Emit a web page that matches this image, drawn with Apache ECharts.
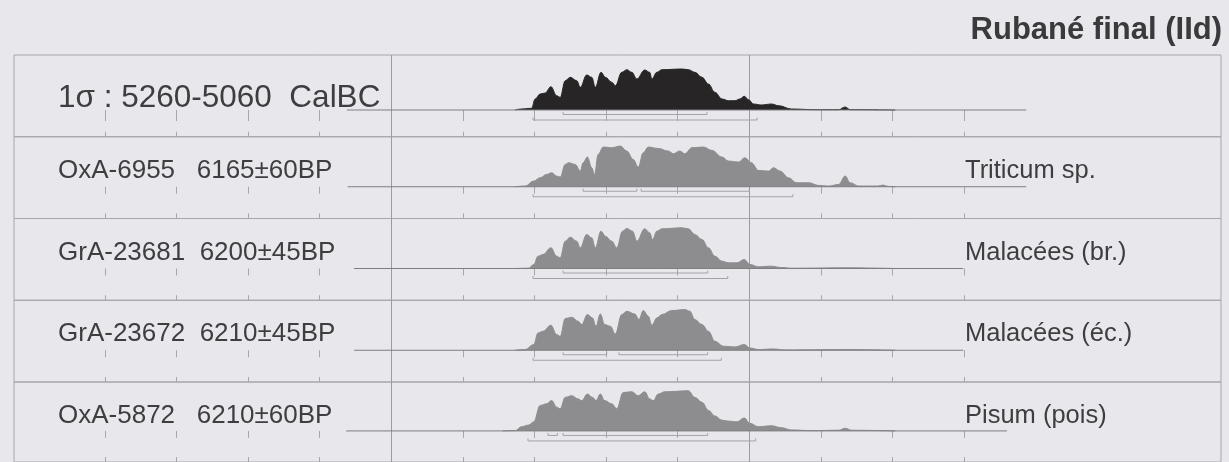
<!DOCTYPE html>
<html lang="fr">
<head>
    <meta charset="UTF-8">
    <title>Rubané final (IId)</title>
    <script src="https://cdnjs.cloudflare.com/ajax/libs/echarts/6.0.0/echarts.min.js"></script>
    <style>
        body { margin: 0; background: #e8e8ec; }
        #chart { width: 1229px; height: 462px; }
    </style>
</head>
<body>
    <div id="chart"></div>

    <script>
        // textes des lignes
        const sampleLabels = ['1σ : 5260-5060  CalBC', 'OxA-6955   6165±60BP', 'GrA-23681  6200±45BP', 'GrA-23672  6210±45BP', 'OxA-5872   6210±60BP'];
        const materialLabels = ['', 'Triticum sp.', 'Malacées (br.)', 'Malacées (éc.)', 'Pisum (pois)'];

        // graduations (années CalBC) et lignes de repère
        const tickYears = [5900, 5800, 5700, 5600, 5500, 5400, 5300, 5200, 5100, 5000, 4900, 4800, 4700];
        const refYears = [5500, 5000];

        // distributions de probabilité [année BC, hauteur]
        const probSum = [[5327,0],[5318,1],[5304,1.7],[5299,11],[5292,16],[5285,17],[5277,23.3],[5269,14.3],[5264,12.7],[5257,29.3],[5250,32.7],[5241,29.3],[5236,22.7],[5227,35],[5220,32.7],[5215,22.7],[5207,37.7],[5201,32.7],[5192,27.7],[5187,24.3],[5178,37.7],[5171,40.3],[5164,37.7],[5157,31],[5146,40],[5139,37.7],[5136,31],[5129,37.7],[5122,40.3],[5094,41],[5085,40.3],[5076,37.7],[5066,32.7],[5057,26],[5048,17.7],[5038,11],[5029,9.3],[5020,9.3],[5013,11],[5007,13.7],[5001,10.3],[4994,6],[4983,5],[4969,6],[4959,4.3],[4941,1],[4908,0.3],[4875,0.3],[4866,3],[4859,0.3],[4796,0]];
        const probOxA6955 = [[5327,0],[5313,0.7],[5301,5.7],[5292,9],[5283,12.3],[5276,14],[5269,10.7],[5264,9.7],[5257,22.3],[5252,24],[5243,22.3],[5236,15.7],[5232,24],[5226,29.7],[5220,19],[5216,12.3],[5211,32.3],[5204,39.7],[5192,39],[5180,40.7],[5171,35.7],[5162,27.3],[5155,19.7],[5148,34],[5141,39.7],[5127,38.3],[5113,35.7],[5106,33],[5097,35.7],[5090,33],[5080,39],[5064,39.7],[5052,36.3],[5038,29.7],[5029,25.7],[5015,24.7],[5006,29],[4997,24],[4987,16.3],[4973,15.7],[4966,19],[4957,15.7],[4945,9],[4934,4],[4917,4],[4903,1.3],[4889,0.7],[4875,2.3],[4866,10.7],[4859,4],[4847,0.7],[4820,0.7],[4813,1.7],[4806,0.3],[4796,0]];
        const probGrA23681 = [[5327,0],[5308,0.3],[5301,4],[5295,12.3],[5288,14],[5277,20.7],[5269,12.3],[5264,10.7],[5257,27.3],[5250,31.3],[5241,27.3],[5236,20.7],[5227,34],[5220,30.7],[5215,20.7],[5207,37.3],[5201,32.3],[5192,27.3],[5185,20.7],[5177,37.3],[5171,40],[5163,37.3],[5157,27.3],[5146,39.7],[5139,35.7],[5135,29],[5129,37.3],[5122,39.7],[5094,40.7],[5085,39.7],[5076,34],[5066,29],[5057,20.7],[5048,12.3],[5038,7.3],[5029,5.7],[5017,5.7],[5007,9],[4999,4],[4987,1.7],[4969,2.3],[4955,1],[4941,0.3],[4866,0.7],[4796,0]];
        const probGrA23672 = [[5327,0],[5313,0.7],[5301,5.7],[5295,17.3],[5288,19],[5277,25],[5269,15.7],[5264,14],[5257,31.7],[5248,33],[5239,29],[5234,25.7],[5226,35.7],[5219,32.3],[5214,24],[5208,36.3],[5202,25.7],[5194,24],[5187,16.3],[5178,35.7],[5171,39],[5160,36.3],[5154,30.7],[5148,39.7],[5141,34],[5136,25],[5129,32.3],[5122,35.7],[5108,39.7],[5090,40.7],[5083,39],[5076,30.7],[5066,25.7],[5057,19],[5048,9],[5036,4],[5020,3.3],[5007,5.7],[4999,2.3],[4987,0.7],[4966,1.3],[4950,0.3],[4866,0.7],[4796,0]];
        const probOxA5872 = [[5345,0],[5327,0.3],[5318,4.3],[5308,6],[5301,9.3],[5292,26],[5283,27.7],[5276,31],[5269,24.3],[5264,22.7],[5257,34.3],[5248,36],[5239,32.7],[5234,31],[5226,37.7],[5219,34.3],[5214,31],[5208,37.7],[5202,31],[5192,27.7],[5185,22.7],[5176,39.3],[5164,40],[5155,36],[5146,40],[5139,32.7],[5134,31],[5127,37.7],[5118,40],[5085,41],[5076,34.3],[5066,29.3],[5057,21],[5048,15.3],[5038,11],[5029,10],[5017,9.3],[5007,13.3],[4999,7.7],[4987,4.3],[4969,5.3],[4955,3.3],[4941,1],[4913,0.3],[4875,0.7],[4866,2.7],[4857,0.7],[4796,0]];
        const distributions = [probSum, probOxA6955, probGrA23681, probGrA23672, probOxA5872];

        // étendue de la ligne de base de chaque courbe
        const baselineRanges = [[5562, 4613], [5561, 4613], [5552, 4701], [5552, 4701], [5563, 4640]];

        // intervalles 1σ (peut être en plusieurs morceaux) et 2σ
        const sigma1 = [
            [[5260, 5059]],
            [[5232, 5157], [5151, 5000]],
            [[5260, 5058]],
            [[5260, 5199], [5182, 5058]],
            [[5281, 5268], [5260, 5058]]
        ];
        const sigma2 = [[5302, 4989], [5302, 4939], [5302, 5030], [5302, 5039], [5309, 4991]];

        const rowTop = 55, rowH = 81.75;
        const baseOffset = [55, 50, 50, 50, 50];
        const fills = ['#272525', '#8d8d90', '#8d8d90', '#8d8d90', '#8d8d90'];
        const font = '"Liberation Sans", Arial, sans-serif';
        const frameColor = '#a6a6ab';

        const grid = [], xAxis = [], yAxis = [], series = [], graphic = [];

        for (let i = 0; i < 5; i++) {
            const top = rowTop + i * rowH;
            grid.push({ left: 14, right: 8, top: top, height: rowH, show: true, borderColor: frameColor, borderWidth: 1, backgroundColor: 'transparent' });
            const axisBase = { type: 'value', gridIndex: i, inverse: true, min: 4341, max: 6027,
                axisLine: { show: false }, splitLine: { show: false },
                axisLabel: { show: false, customValues: tickYears } };
            xAxis.push(Object.assign({}, axisBase, { position: 'top',
                axisTick: { inside: true, length: i === 0 ? 11 : 7, customValues: tickYears, lineStyle: { color: frameColor } } }));
            xAxis.push(Object.assign({}, axisBase, { position: 'bottom',
                axisTick: { inside: true, length: 5, customValues: tickYears, lineStyle: { color: frameColor } } }));
            yAxis.push({ type: 'value', gridIndex: i, min: -(rowH - baseOffset[i]), max: baseOffset[i], show: false });

            // ligne de base + repères verticaux
            series.push({
                type: 'line', xAxisIndex: 2 * i, yAxisIndex: i, symbol: 'none', silent: true, z: 3,
                data: [[baselineRanges[i][0], 0], [baselineRanges[i][1], 0]],
                lineStyle: { color: '#7e7e82', width: 1 },
                markLine: { silent: true, symbol: 'none', label: { show: false }, z: 1,
                    lineStyle: { color: '#9c9ca0', width: 1, type: 'solid' },
                    data: refYears.map(y => ({ xAxis: y })) }
            });

            // courbe de probabilité
            series.push({
                type: 'line', xAxisIndex: 2 * i, yAxisIndex: i, symbol: 'none', silent: true, z: 2,
                smooth: 0.4, smoothMonotone: 'x',
                data: distributions[i],
                lineStyle: { color: fills[i], width: 1 },
                areaStyle: { color: fills[i], opacity: 1 }
            });

            // crochets 1σ / 2σ
            const brackets = sigma1[i].map(s => [s[0], s[1], 1]).concat([[sigma2[i][0], sigma2[i][1], 2]]);
            series.push({
                type: 'custom', xAxisIndex: 2 * i, yAxisIndex: i, silent: true, z: 4,
                data: brackets,
                encode: { x: [0, 1] },
                renderItem: function (params, api) {
                    const a = api.coord([api.value(0), 0]);
                    const b = api.coord([api.value(1), 0]);
                    const y = a[1] + (api.value(2) === 1 ? 4.5 : 10);
                    return {
                        type: 'polyline',
                        shape: { points: [[a[0], y - 2.5], [a[0], y], [b[0], y], [b[0], y - 2.5]] },
                        style: { stroke: '#a2a2aa', fill: null, lineWidth: 1 }
                    };
                }
            });

            graphic.push({
                type: 'text', x: 58, y: top + (i === 0 ? 43 : 34), silent: true,
                style: { text: sampleLabels[i], font: (i === 0 ? '31.5px ' : '26px ') + font, fill: '#3e3e40', verticalAlign: 'middle' }
            });
            if (materialLabels[i]) {
                graphic.push({
                    type: 'text', x: 965, y: top + 34, silent: true,
                    style: { text: materialLabels[i], font: '25.5px ' + font, fill: '#3e3e40', verticalAlign: 'middle' }
                });
            }
        }

        const chart = echarts.init(document.getElementById('chart'));
        chart.setOption({
            backgroundColor: '#e8e8ec',
            animation: false,
            title: {
                text: 'Rubané final (IId)', right: 7, top: 15, padding: 0,
                textStyle: { fontSize: 31, fontWeight: 'bold', color: '#3a3a3c', fontFamily: font }
            },
            grid: grid,
            xAxis: xAxis,
            yAxis: yAxis,
            series: series,
            graphic: graphic
        });
    </script>
</body>
</html>
